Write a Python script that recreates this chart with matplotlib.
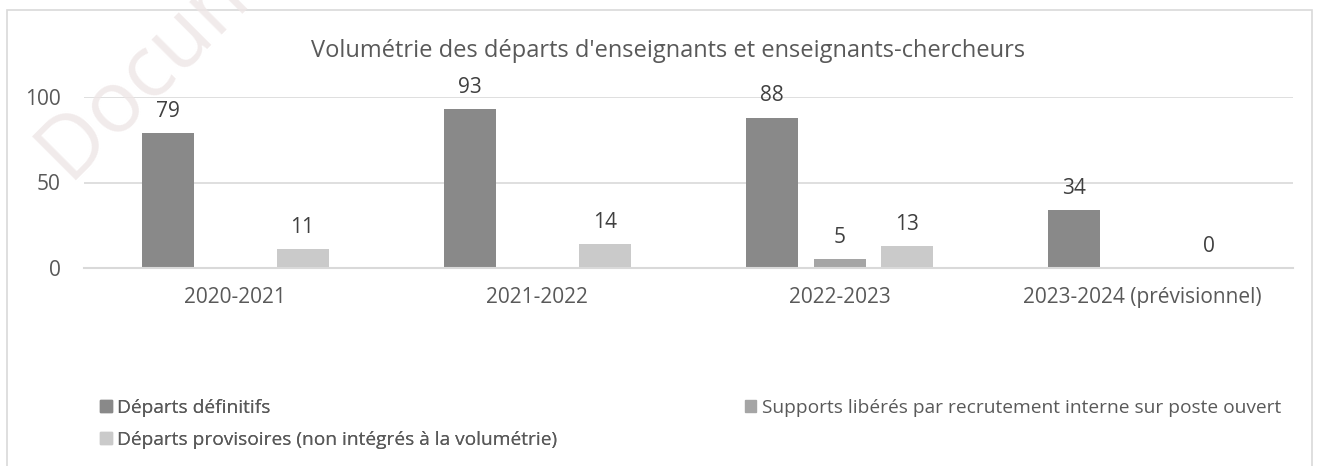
import numpy as np
import matplotlib
matplotlib.use("Agg")
import matplotlib.pyplot as plt
from matplotlib.patches import Rectangle, Patch

categories = ["2020-2021", "2021-2022", "2022-2023", "2023-2024 (prévisionnel)"]
series_names = ["Départs définitifs",
                "Supports libérés par recrutement interne sur poste ouvert",
                "Départs provisoires (non intégrés à la volumétrie)"]
definitifs = [79, 93, 88, 34]
supports = [np.nan, np.nan, 5, np.nan]
provisoires = [11, 14, 13, 0]
colors = ["#898989", "#a5a5a5", "#cacaca"]
title = "Volumétrie des départs d'enseignants et enseignants-chercheurs"

plt.rcParams['font.family'] = ['Open Sans', 'DejaVu Sans']
TXT = "#595959"
FS = 15
LFS = 13.8

fig = plt.figure(figsize=(13.22, 4.66), dpi=100)
W, H = 1322, 466
ax = fig.add_axes([84 / W, 1 - 268 / H, (1293 - 84) / W, (268 - 97) / H])

x = np.arange(len(categories))
width = 0.172
offset = 0.223
for i, (vals, c) in enumerate(zip([definitifs, supports, provisoires], colors)):
    xs = x + (i - 1) * offset
    ax.bar(xs, vals, width=width, color=c, zorder=3)
    for xi, v in zip(xs, vals):
        if not np.isnan(v):
            ax.annotate(f"{int(v)}", (xi, v), xytext=(0, 8), textcoords="offset points",
                        ha="center", va="bottom", fontsize=FS, color="#404040")

ax.set_xlim(-0.5, len(categories) - 0.5)
ax.set_ylim(0, 100)
ax.set_yticks([0, 50, 100])
ax.set_yticklabels(["0", "50", "100"])
ax.set_xticks(x)
ax.set_xticklabels(categories)
ax.tick_params(axis="both", length=0, labelsize=FS, colors=TXT)
ax.tick_params(axis="y", pad=17)
ax.tick_params(axis="x", pad=14)
ax.yaxis.grid(True, color="#d9d9d9", linewidth=1.2, zorder=0)
for s in ["top", "right", "left"]:
    ax.spines[s].set_visible(False)
ax.spines["bottom"].set_color("#d9d9d9")
ax.spines["bottom"].set_linewidth(1.5)
ax.spines["bottom"].set_zorder(4)

fig.text(668 / W, 1 - 51 / H, title, ha="center", va="center", fontsize=17, color=TXT)

h = [Patch(color=c) for c in colors]
leg1 = fig.legend([h[0], h[2]], [series_names[0], series_names[2]],
                  loc="upper left", bbox_to_anchor=(100 / W, 1 - 399 / H),
                  frameon=False, fontsize=LFS, labelcolor=TXT,
                  handlelength=0.6, handleheight=0.6, handletextpad=0.3,
                  labelspacing=0.72, borderpad=0, borderaxespad=0)
leg2 = fig.legend([h[1]], [series_names[1]],
                  loc="upper left", bbox_to_anchor=(745 / W, 1 - 399 / H),
                  frameon=False, fontsize=LFS, labelcolor=TXT,
                  handlelength=0.6, handleheight=0.6, handletextpad=0.3,
                  borderpad=0, borderaxespad=0)
fig.add_artist(leg1)

fig.patches.append(Rectangle((7 / W, -0.1), (1312 - 7) / W, 1 - 10 / H + 0.1,
                             transform=fig.transFigure, fill=False,
                             edgecolor="#d9d9d9", linewidth=1.2))

fig.text(22 / W, 1 - 195 / H, "Document", rotation=45, fontsize=62,
         color="#eee6e6", alpha=0.8, ha="left", va="bottom", zorder=10)

fig.savefig("out.png", dpi=100)
